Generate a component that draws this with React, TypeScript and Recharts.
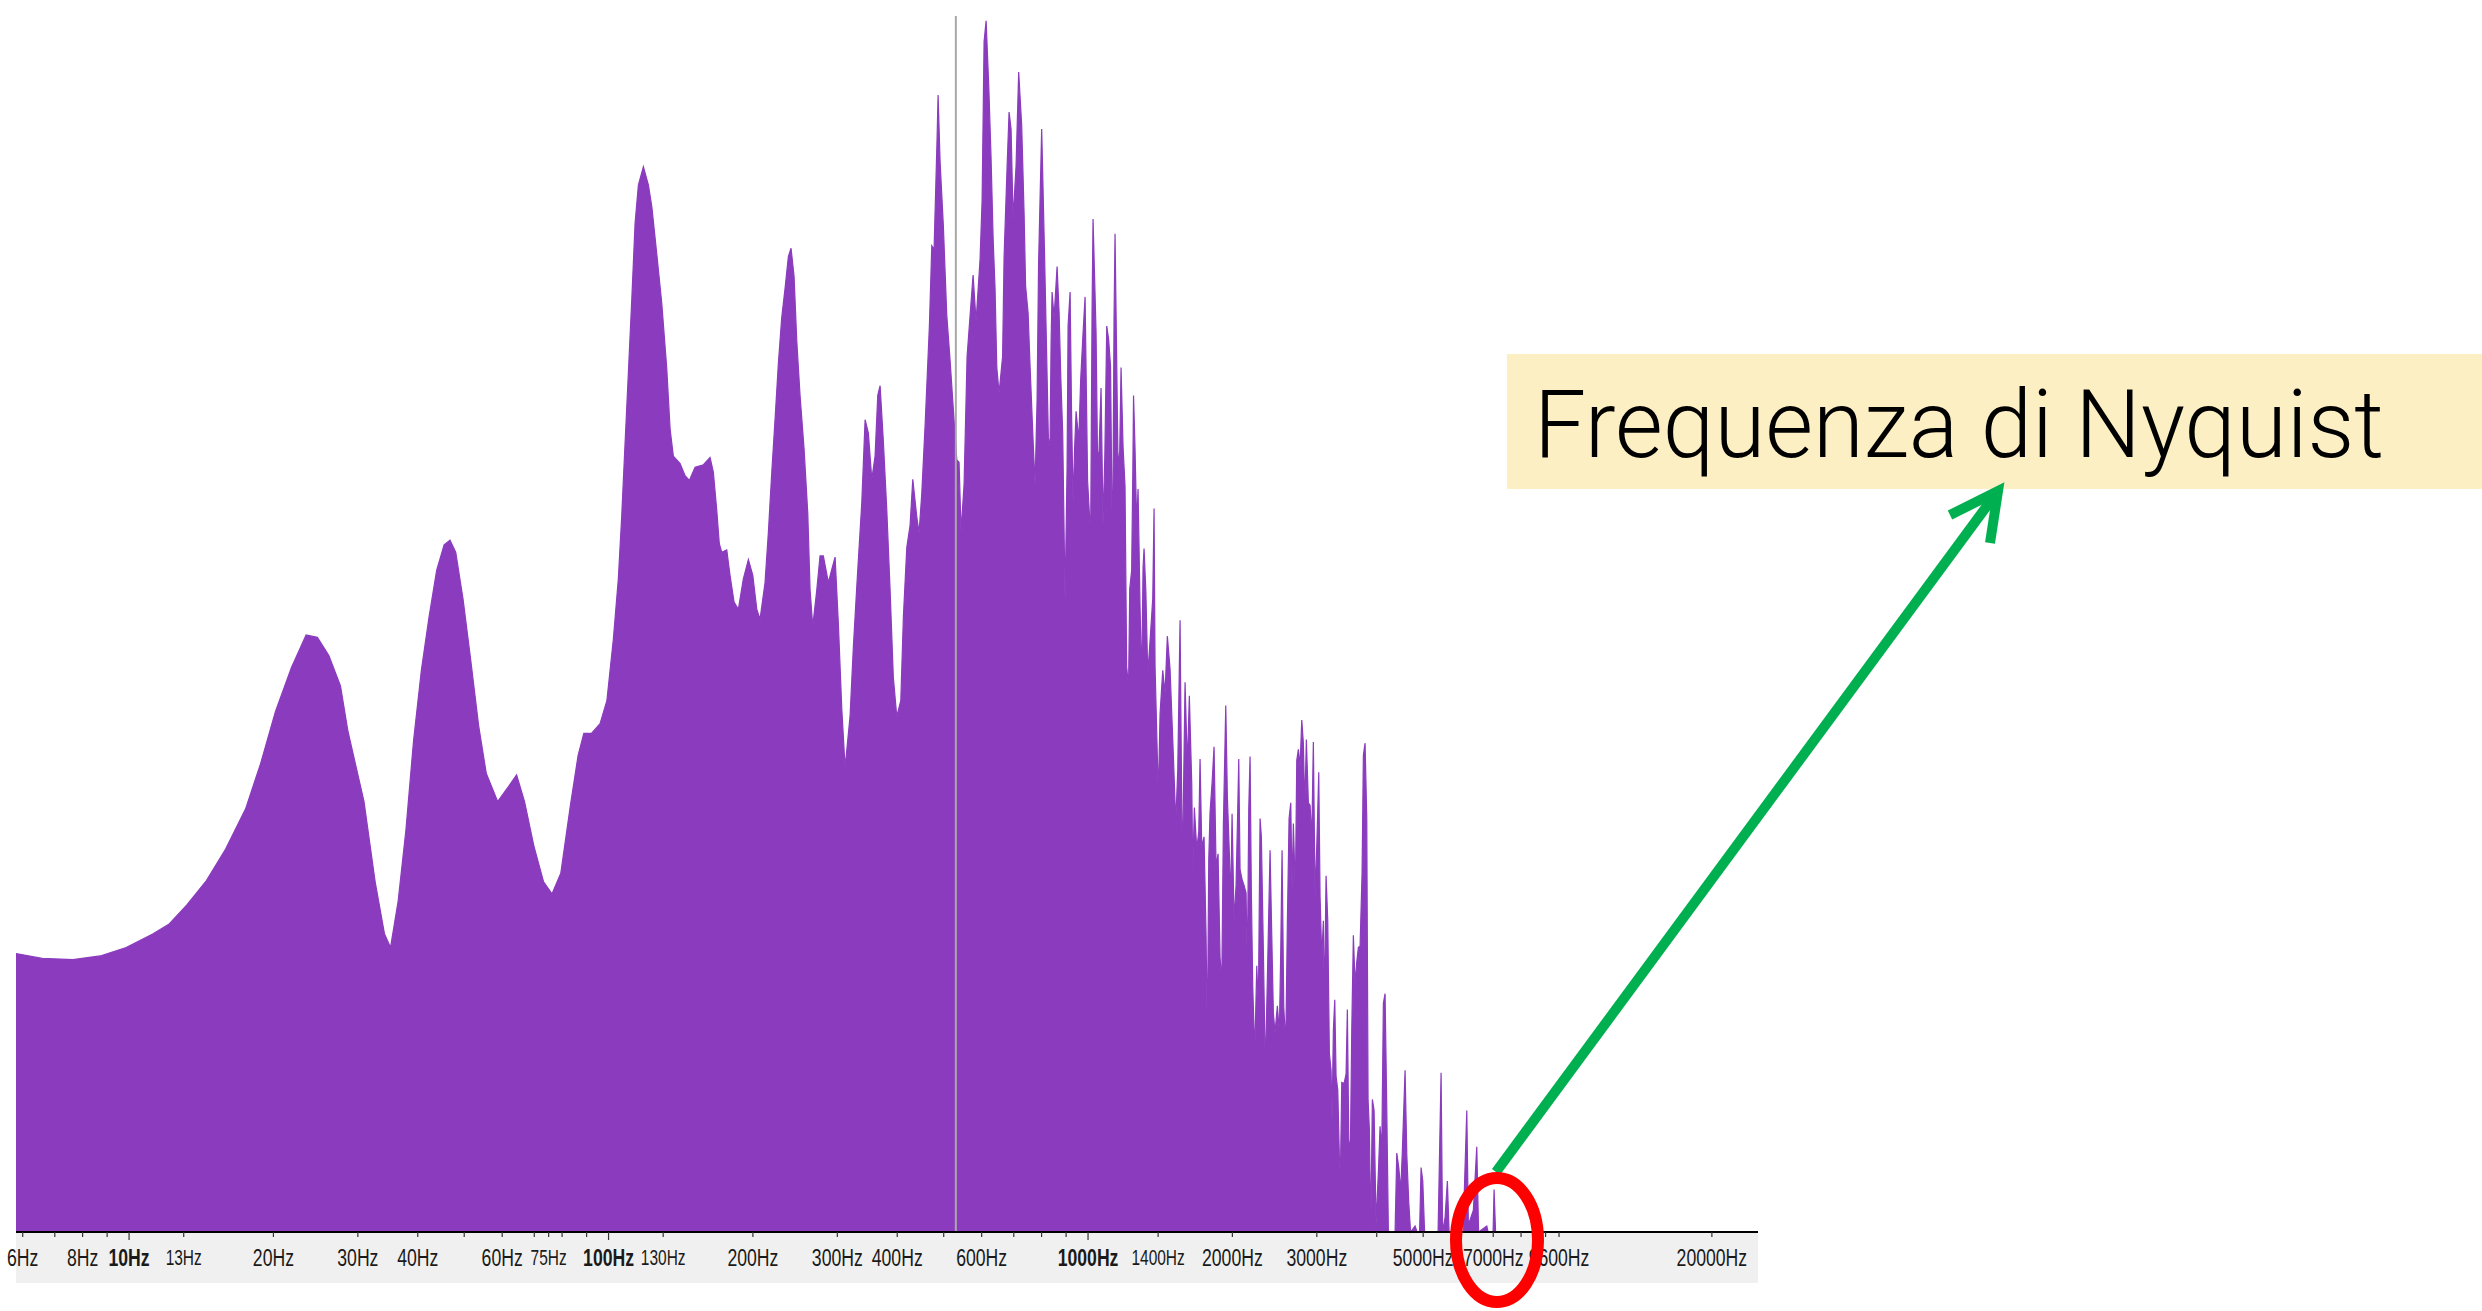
import { ComposedChart, Area, XAxis, YAxis, ReferenceLine } from "recharts";

// spectrum readings: frequency (Hz) and level (0 = floor, 100 = top of plot)
const lowFreqHz = [
  5.81, 6.59, 7.64, 8.7, 9.86, 11.2, 12.1, 13.2, 14.5, 15.9,
  17.5, 18.8, 20.2, 21.8, 23.4, 24.7, 26.1, 27.6, 28.6, 30.9,
  32.6, 34.1, 35.1, 36.4, 37.8, 39.2, 40.7, 42.2, 43.8, 45.4,
  46.7, 48.0, 49.7, 51.6, 53.6, 55.6, 58.7, 62.0, 64.3, 66.8,
  69.9, 73.2, 76.2, 79.5, 83.2, 86.4, 88.8, 92.1,
];
const lowLevel = [
  22.9, 22.5, 22.4, 22.7, 23.4, 24.5, 25.3, 26.9, 28.9, 31.5,
  34.8, 38.5, 42.8, 46.4, 49.1, 48.9, 47.4, 44.9, 41.2, 35.4,
  28.8, 24.5, 23.4, 27.2, 33.1, 40.4, 46.2, 50.5, 54.4, 56.5,
  56.9, 55.9, 52.1, 47.0, 41.6, 37.7, 35.4, 36.7, 37.6, 35.4,
  31.7, 28.8, 27.8, 29.5, 35.0, 39.2, 41.0, 41.0,
];

const midFreqHz = [
  96.0, 99.2, 102.3, 104.8, 106.5, 108.2, 110.0, 111.8, 113.6, 115.4,
  118.2, 121.1, 123.1, 126.0, 129.1, 132.2, 134.4, 136.5, 141.0, 144.4,
  147.4, 151.5, 157.7, 162.8, 165.4, 168.1, 170.2, 172.2, 176.4, 179.2,
  182.7, 186.5, 191.0, 195.7, 199.9, 203.8, 207.0, 212.0, 215.4, 219.0,
  222.5, 226.0, 229.7, 233.4, 237.1, 240.2, 243.7, 246.9, 250.8, 255.7,
  260.3, 263.2, 266.6, 271.8, 276.1, 280.5, 287.4, 292.1, 296.8, 301.5,
  306.5, 311.4, 318.9, 324.0, 329.4, 337.4, 342.8, 348.2, 354.0, 359.6,
  364.3, 368.4, 374.2, 380.4, 386.5, 392.6, 399.1, 406.9, 412.0, 418.8,
  425.4, 431.0, 439.4, 444.2, 450.0, 457.2, 466.8, 472.2, 477.4, 484.4,
  486.7, 491.4, 499.2, 507.4, 515.5, 523.8, 532.4,
];
const midLevel = [
  41.8, 43.7, 48.7, 53.7, 58.8, 64.7, 70.7, 76.7, 83.0, 86.1,
  87.6, 86.1, 84.3, 80.5, 76.4, 71.1, 66.0, 63.8, 63.2, 62.2,
  61.8, 62.9, 63.1, 63.7, 62.5, 59.4, 56.6, 55.9, 56.1, 54.0,
  51.8, 51.2, 53.7, 55.3, 54.0, 51.2, 50.4, 53.4, 57.5, 62.5,
  66.9, 71.4, 75.2, 77.6, 80.2, 80.9, 78.6, 73.3, 68.8, 64.4,
  59.1, 52.8, 49.8, 52.8, 55.6, 55.6, 53.4, 54.5, 55.5, 50.0,
  43.0, 38.2, 42.4, 48.1, 53.1, 60.0, 66.8, 65.7, 61.9, 63.8,
  68.8, 69.6, 65.0, 59.4, 52.8, 45.6, 42.4, 43.7, 50.6, 56.3,
  58.1, 61.9, 58.8, 57.5, 60.7, 66.3, 74.5, 81.1, 80.8, 90.0,
  93.5, 88.0, 82.7, 75.4, 71.7, 67.6, 63.5,
];

const denseFreqHz = [
  538.3, 543.5, 551.4, 559.4, 573.0, 575.8, 584.1, 595.4, 601.2, 607.0,
  612.9, 620.8, 627.7, 633.8, 639.9, 645.2, 652.3, 663.4, 668.2, 677.9,
  684.4, 691.0, 697.7, 707.8, 716.7, 727.1, 735.6, 740.9, 749.8, 757.0,
  768.0, 775.4, 782.9, 788.6, 800.4, 812.0, 819.9, 827.4, 833.4, 837.4,
  841.4, 849.5, 861.9, 870.2, 877.3, 885.4, 890.5, 895.6, 904.3, 908.6,
  917.4, 924.0, 930.7, 937.4, 944.2, 956.5, 965.3, 976.5, 985.9, 997.8,
  1012.6, 1019.4, 1024.3, 1039.2, 1046.7, 1054.2, 1064.4, 1074.7, 1084.0, 1094.0,
  1104.0, 1114.1, 1124.8, 1133.0, 1138.4, 1155.0, 1164.4, 1171.7, 1183.0, 1194.4,
  1203.7, 1214.7, 1221.7, 1232.9, 1240.0, 1244.2, 1253.2, 1262.9, 1271.4, 1283.7,
  1293.6, 1302.3, 1308.6, 1320.0, 1332.1, 1344.3, 1353.3, 1364.4, 1373.0,
];
const denseLevel = [
  63.3, 57.6, 61.5, 72.0, 77.6, 78.7, 74.9, 80.0, 84.8, 97.9,
  99.6, 94.2, 88.3, 81.8, 77.5, 71.1, 69.0, 72.0, 80.2, 87.6,
  92.1, 90.7, 83.3, 87.7, 95.4, 91.0, 83.7, 77.8, 75.6, 71.2,
  65.1, 61.5, 68.4, 79.7, 90.7, 79.9, 72.0, 64.4, 65.3, 73.2,
  77.3, 75.2, 79.4, 75.6, 70.3, 65.7, 58.7, 52.0, 63.0, 74.5,
  77.3, 67.2, 60.0, 64.4, 67.5, 65.1, 70.1, 74.0, 76.9, 61.8,
  57.2, 75.6, 83.3, 74.0, 63.7, 64.2, 69.4, 58.2, 63.9, 74.5,
  73.4, 71.2, 54.7, 75.1, 82.1, 63.0, 64.2, 71.1, 64.6, 61.3,
  46.5, 44.8, 52.9, 54.4, 62.6, 68.8, 64.4, 58.2, 61.1, 51.4,
  45.2, 54.6, 56.2, 52.7, 45.9, 48.1, 49.9, 52.1, 59.5,
];

const highFreqHz = [
  1379.6, 1401.6, 1413.1, 1431.5, 1447.4, 1463.5, 1482.6, 1506.3, 1523.8, 1538.5,
  1555.6, 1563.1, 1572.9, 1593.4, 1611.1, 1626.6, 1645.5, 1653.4, 1666.2, 1685.5,
  1701.8, 1712.4, 1726.4, 1745.6, 1762.5, 1773.5, 1785.4, 1796.6, 1814.0, 1831.5,
  1849.2, 1867.0, 1885.1, 1900.6, 1915.2, 1937.4, 1952.4, 1971.2, 1984.5, 1996.9,
  2016.2, 2035.6, 2048.4, 2062.2, 2075.1, 2095.1, 2115.4, 2135.8, 2149.1, 2163.6,
  2177.2, 2190.8, 2205.6, 2226.9, 2248.4, 2265.7, 2284.3, 2298.6, 2317.4, 2343.2,
  2365.8, 2396.7, 2416.3, 2434.9, 2454.9, 2482.2, 2506.1, 2523.1, 2538.9, 2559.7,
  2584.5, 2604.3, 2625.7, 2647.2, 2663.8, 2680.4, 2706.3, 2724.6, 2745.6, 2768.1,
  2790.8, 2812.3, 2831.3, 2853.1, 2880.7, 2904.3, 2928.1, 2950.7, 2974.9, 2999.2,
  3028.2, 3047.2, 3072.2, 3095.9, 3110.8, 3136.3, 3162.0, 3186.4, 3212.5, 3228.0,
  3248.2, 3270.1, 3290.6, 3317.5, 3343.1, 3359.3, 3381.9, 3419.5, 3452.5, 3474.1,
  3497.5, 3524.5, 3548.2, 3575.6, 3605.0, 3634.5, 3662.5, 3692.6, 3728.2, 3751.6,
  3782.3, 3813.3, 3837.2, 3861.2, 3887.3, 3917.2, 3949.4, 3987.5, 4031.8, 4064.9,
  4098.2, 4129.8, 4163.7, 4197.9, 4230.2, 4368.5, 4404.3, 4446.8, 4489.8, 4524.4,
  4583.4, 4621.1, 4665.6, 4706.1, 4808.9, 4855.3, 4914.0, 4949.5, 4990.1, 5033.4,
  5370.5, 5448.5, 5487.9, 5554.2, 5615.9, 5661.9, 6055.7, 6164.3, 6211.8, 6362.8,
  6467.5, 6523.6, 6785.8, 6828.3, 6994.2, 7027.8, 7078.6,
];
const highLevel = [
  46.5, 35.8, 42.6, 46.2, 44.3, 49.0, 46.3, 39.2, 33.7, 38.0,
  50.3, 41.1, 29.5, 45.2, 38.3, 44.1, 36.8, 29.6, 34.9, 31.5,
  32.9, 38.9, 31.7, 32.5, 24.4, 15.9, 30.6, 34.5, 36.9, 39.9,
  30.1, 31.1, 22.6, 20.5, 33.3, 43.3, 35.8, 31.1, 27.3, 34.4,
  25.6, 28.5, 33.3, 38.9, 29.8, 29.0, 28.5, 27.9, 21.6, 34.8,
  39.1, 27.9, 20.1, 14.7, 21.9, 18.5, 34.0, 32.5, 24.6, 13.3,
  20.8, 31.4, 24.4, 18.0, 16.4, 18.6, 16.4, 23.2, 31.4, 18.5,
  15.5, 25.4, 34.0, 35.3, 28.2, 33.6, 27.9, 38.8, 39.7, 38.3,
  42.1, 40.2, 34.8, 40.5, 35.3, 35.1, 32.3, 40.3, 27.6, 31.7,
  37.8, 27.6, 22.6, 25.6, 18.5, 29.3, 25.6, 14.7, 13.3, 9.2,
  16.6, 19.1, 12.8, 11.7, 6.2, 4.6, 12.3, 12.2, 13.0, 18.3,
  7.6, 6.7, 16.6, 24.4, 20.4, 22.2, 23.4, 23.5, 29.5, 39.2,
  40.2, 34.0, 10.9, 8.4, 0, 10.9, 10.0, 0.7, 4.9, 8.7,
  6.7, 18.8, 19.6, 10.1, 0, 0, 6.5, 5.3, 3.4, 6.7,
  13.3, 6.4, 2.4, 0, 0.5, 0, 0, 5.3, 4.2, 0,
  0, 13.1, 0, 1.2, 4.2, 0, 0, 10.0, 0.6, 1.8,
  7.0, 0, 0.5, 0, 0, 3.5, 0,
];

const tickHz = [
  6, 7, 8, 9, 10, 13, 20, 30, 40, 50, 60, 70, 75, 80, 90, 100, 130, 200, 300, 400,
  500, 600, 700, 800, 900, 1000, 1400, 2000, 3000, 4000, 5000, 6000, 7000, 8000,
  9000, 9600, 20000,
];
const tickLabels: Record<number, string> = {
  6: "6Hz", 8: "8Hz", 10: "10Hz", 13: "13Hz", 20: "20Hz", 30: "30Hz", 40: "40Hz",
  60: "60Hz", 75: "75Hz", 100: "100Hz", 130: "130Hz", 200: "200Hz", 300: "300Hz",
  400: "400Hz", 600: "600Hz", 1000: "1000Hz", 1400: "1400Hz", 2000: "2000Hz",
  3000: "3000Hz", 5000: "5000Hz", 7000: "7000Hz", 9600: "9600Hz", 20000: "20000Hz",
};
const majorTicks = [10, 100, 1000];
const smallTicks = [13, 75, 130, 1400];
const cursorHz = 530;

const freqHz = [...lowFreqHz, ...midFreqHz, ...denseFreqHz, ...highFreqHz];
const levels = [...lowLevel, ...midLevel, ...denseLevel, ...highLevel];
const data = freqHz.map((f, i) => ({ f, level: levels[i] }));

const PURPLE = "#8B3CBE";

function AxisTick({ x, y, payload }: any) {
  const v = payload.value;
  const major = majorTicks.includes(v);
  const small = smallTicks.includes(v);
  const label = tickLabels[v];
  return (
    <g>
      <line x1={x} x2={x} y1={y} y2={y + (major ? 8 : 5)} stroke="#333" strokeWidth={1.2} />
      {label && (
        <text
          transform={`translate(${x},${y + (small ? 32.5 : 34)}) scale(0.72,1)`}
          textAnchor="middle"
          fontFamily="'Liberation Sans', Arial, sans-serif"
          fontSize={small ? 21.5 : 24.5}
          fontWeight={major ? 700 : 400}
          fill="#1a1a1a"
        >
          {label}
        </text>
      )}
    </g>
  );
}

export default function App() {
  return (
    <div style={{ position: "absolute", left: 0, top: 0, width: 2482, height: 1311, background: "#fff", overflow: "hidden" }}>
      <div style={{ position: "absolute", left: 16, top: 1233, width: 1742, height: 50, background: "#f0f0f0" }} />
      <div style={{ position: "absolute", left: 0, top: 0 }}>
        <ComposedChart width={2482} height={1311} data={data} margin={{ top: 16, right: 724, bottom: 0, left: 16 }}>
          <XAxis
            dataKey="f"
            type="number"
            scale="log"
            domain={[5.81, 24960]}
            allowDataOverflow
            ticks={tickHz}
            interval={0}
            tick={(p: any) => <AxisTick {...p} />}
            tickLine={false}
            tickSize={0}
            tickMargin={0}
            axisLine={{ stroke: "#000", strokeWidth: 2 }}
            height={79}
          />
          <YAxis hide type="number" domain={[0, 100]} />
          <Area
            type="linear"
            dataKey="level"
            fill={PURPLE}
            fillOpacity={1}
            stroke={PURPLE}
            strokeWidth={1.2}
            dot={false}
            activeDot={false}
            isAnimationActive={false}
          />
          <ReferenceLine x={cursorHz} stroke="#a8a8a8" strokeWidth={2} />
        </ComposedChart>
      </div>
      <svg width={2482} height={1311} style={{ position: "absolute", left: 0, top: 0, pointerEvents: "none" }}>
        <rect x={1507} y={354} width={975} height={135} fill="#FDEFC4" />
        <text
          x={1534}
          y={457}
          fontFamily="Roboto, Lato, 'Open Sans', sans-serif"
          fontWeight={300}
          fontSize={95}
          textLength={850}
          lengthAdjust="spacingAndGlyphs"
          fill="#000"
        >
          Frequenza di Nyquist
        </text>
        <line x1={1496} y1={1172} x2={1995} y2={495} stroke="#00B050" strokeWidth={10} />
        <path d="M1950 515 L1998 491 L1990 543" fill="none" stroke="#00B050" strokeWidth={10} strokeLinejoin="miter" />
        <ellipse cx={1497} cy={1240} rx={41} ry={62} fill="none" stroke="#FF0000" strokeWidth={12} />
      </svg>
    </div>
  );
}
